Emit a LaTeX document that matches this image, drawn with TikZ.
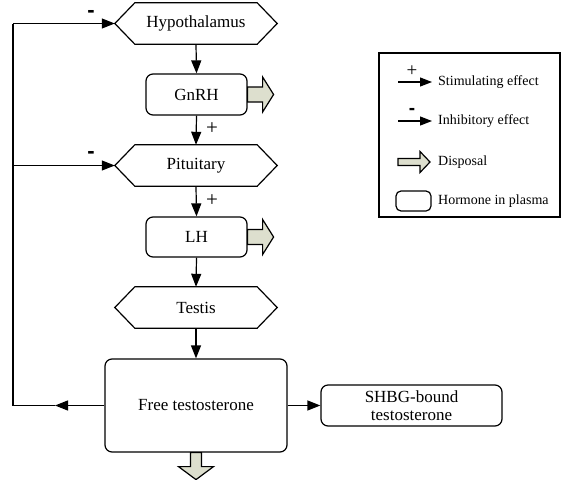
\documentclass[tikz,border=0pt]{standalone}
\usepackage{fontspec}
\setmainfont{Liberation Serif}
\newfontfamily\signfont{Liberation Sans}
\usetikzlibrary{arrows.meta}
\definecolor{dispfill}{RGB}{221,223,206}
\begin{document}
\begin{tikzpicture}[x=1pt,y=-1pt,
  ln/.style={line width=1.2pt, draw=black},
  arr/.style={ln, -{Triangle[length=13pt,width=10pt]}},
  larr/.style={ln, -{Triangle[length=12pt,width=9pt]}},
  hexnode/.style={minimum width=162pt, minimum height=41pt, inner sep=0pt, font=\fontsize{17}{20}\selectfont},
  hormone/.style={ln, rounded corners=7pt, inner sep=0pt, font=\fontsize{17}{18}\selectfont, align=center},
  disp/.style={line width=1.2pt, draw=black, fill=dispfill},
  sign/.style={inner sep=0pt, font=\fontsize{21}{21}\selectfont},
  minus/.style={inner sep=0pt, font=\fontsize{22}{22}\selectfont\signfont\bfseries},
  legtext/.style={anchor=west, inner sep=0pt, font=\fontsize{14}{16}\selectfont}
]
\useasboundingbox (0,0) rectangle (561,479);
\newcommand\hexpath[1]{\draw[ln] (#1.west) -- ([xshift=20pt]#1.north west) -- ([xshift=-20pt]#1.north east) -- (#1.east) -- ([xshift=-20pt]#1.south east) -- ([xshift=20pt]#1.south west) -- cycle;}
% main nodes
\node[hexnode] (hyp) at (196,23.5) {Hypothalamus};
\node[hormone, minimum width=101pt, minimum height=41pt] (gnrh) at (196.5,94.5) {GnRH};
\node[hexnode] (pit) at (196,165.5) {Pituitary};
\node[hormone, minimum width=101pt, minimum height=40pt] (lh) at (196.5,237) {LH};
\node[hexnode] (testis) at (196,307.5) {Testis};
\node[hormone, minimum width=182pt, minimum height=93pt] (free) at (196,405.5) {Free testosterone};
\node[hormone, minimum width=181pt, minimum height=41pt] (shbg) at (411.5,405.5) {SHBG-bound\\testosterone};
\hexpath{hyp}
\hexpath{pit}
\hexpath{testis}
% vertical arrows
\draw[arr] (hyp.south) -- (gnrh.north);
\draw[arr] (gnrh.south) -- (pit.north);
\draw[arr] (pit.south) -- (lh.north);
\draw[arr] (lh.south) -- (testis.north);
\draw[arr] (testis.south) -- (free.north);
\draw[arr] (free.east) -- (shbg.west);
\node[sign] (p1) at (212,129) {+};
\node[sign] (p2) at (212,201) {+};
% feedback
\coordinate (fbtip) at (55,405.5);
\coordinate (fbbot) at (13,405.5);
\coordinate (fbtop) at (13,23.5);
\coordinate (fbpit) at (13,165.5);
\draw[arr] (free.west) -- (fbtip);
\draw[ln] (fbtip) -- (fbbot) -- (fbtop);
\draw[arr] (fbtop) -- (hyp.west);
\draw[arr] (fbpit) -- (pit.west);
\node[minus] (m1) at (91,14) {-};
\node[minus] (m2) at (91,155) {-};
% disposal arrows
\draw[disp] ([yshift=7.5pt]gnrh.east) -- ++(15,0) -- ++(0,-10) -- ++(11,17.5) -- ++(-11,17.5) -- ++(0,-10) -- ++(-15,0) -- cycle;
\draw[disp] ([yshift=7.5pt]lh.east) -- ++(15,0) -- ++(0,-10) -- ++(11,17.5) -- ++(-11,17.5) -- ++(0,-10) -- ++(-15,0) -- cycle;
\draw[disp] ([xshift=-5.5pt]free.south) -- ++(0,14) -- ++(-12,0) -- ++(17.5,13) -- ++(17.5,-13) -- ++(-12,0) -- ++(0,-14) -- cycle;
% legend
\node[ln, minimum width=181pt, minimum height=164pt, inner sep=0pt] (legend) at (469.5,135) {};
\coordinate (l1a) at (398,82);
\coordinate (l1b) at (432,82);
\coordinate (l2a) at (398,121);
\coordinate (l2b) at (432,121);
\draw[larr] (l1a) -- (l1b);
\draw[larr] (l2a) -- (l2b);
\node[inner sep=0pt, font=\fontsize{19}{19}\selectfont] (lp) at (412,71) {+};
\node[inner sep=0pt, font=\fontsize{19}{19}\selectfont\signfont\bfseries] (lm) at (412,111) {-};
\coordinate (l3) at (398,162);
\draw[disp] ([yshift=3.5pt]l3) -- ++(22,0) -- ++(0,-7) -- ++(10,10.5) -- ++(-10,10.5) -- ++(0,-7) -- ++(-22,0) -- cycle;
\node[ln, rounded corners=5pt, minimum width=35pt, minimum height=20pt, inner sep=0pt] (lbox) at (413.5,201) {};
\node[legtext] (t1) at (438,82) {Stimulating effect};
\node[legtext] (t2) at (438,121) {Inhibitory effect};
\node[legtext] (t3) at (438,162) {Disposal};
\node[legtext] (t4) at (438,201) {Hormone in plasma};
\end{tikzpicture}
\end{document}
